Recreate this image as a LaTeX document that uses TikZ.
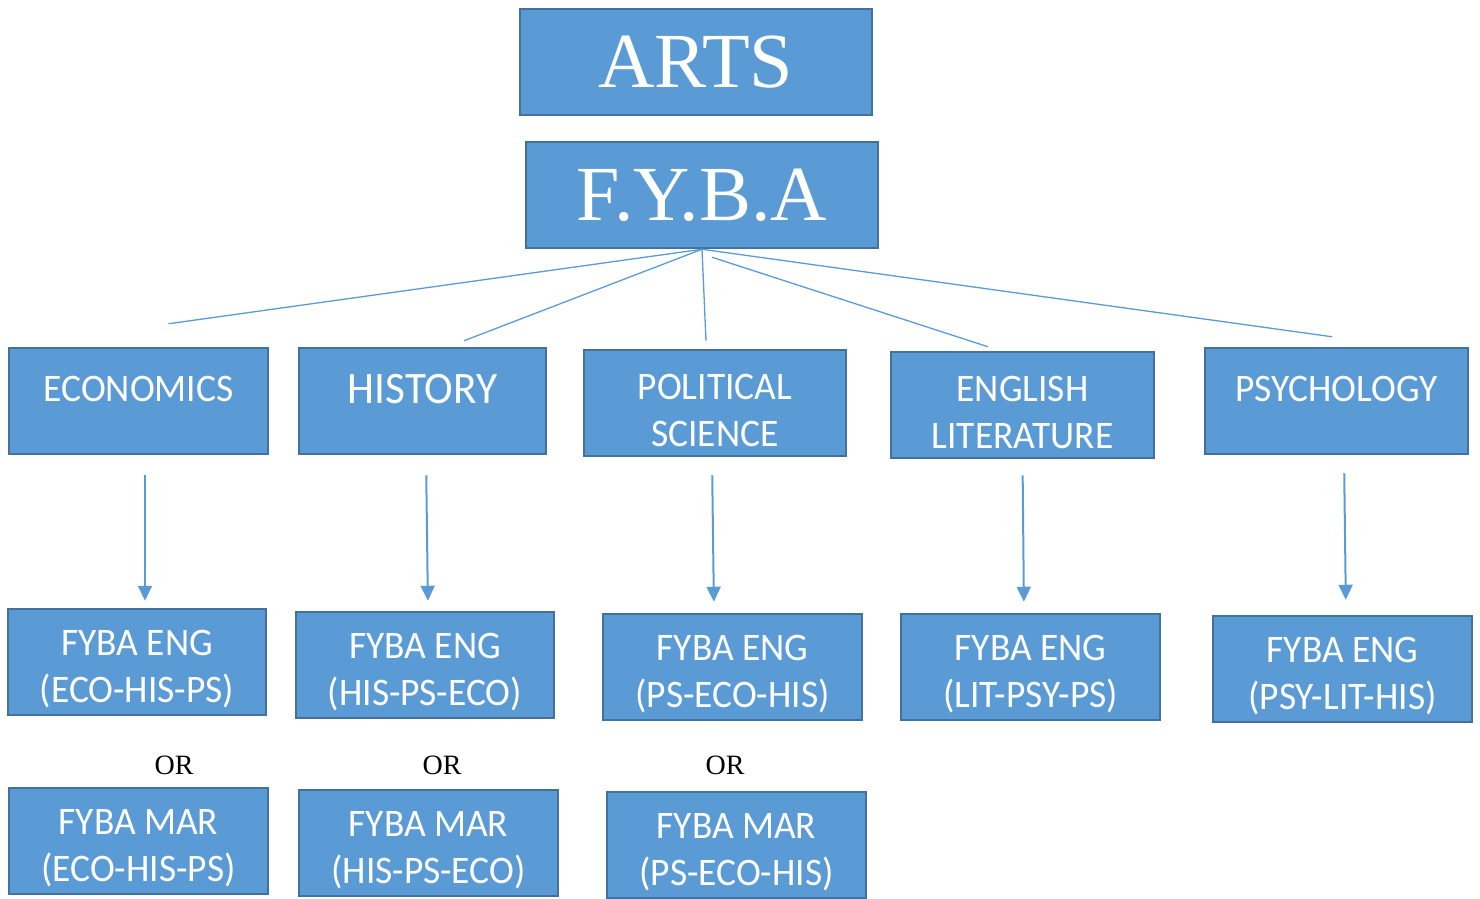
\documentclass[tikz,border=0pt]{standalone}
\usepackage{fontspec}
\setmainfont{Liberation Serif}
\newfontfamily\calibri[FakeStretch=0.96]{Carlito}
\usepackage{tikz}
\usetikzlibrary{arrows.meta}

\definecolor{boxblue}{HTML}{5B9BD5}
\definecolor{boxedge}{HTML}{41719C}

% pushes a two-line box text down a little
\newcommand{\topgap}{\rule{0pt}{40pt}}

\tikzset{
  box/.style={rectangle, draw=boxedge, line width=2.5pt, fill=boxblue, text=white,
    inner sep=0pt, minimum height=106pt, align=center,
    font=\calibri\fontsize{39}{47}\selectfont},
  headbox/.style={box, minimum width=352pt, font=\fontsize{78}{90}\selectfont},
  oneline/.style={text depth=24pt},
  fan/.style={draw=boxblue, line width=1.3pt},
  drop/.style={draw=boxblue, line width=2pt, -{Triangle[length=15pt, width=14pt]}},
  ortext/.style={font=\fontsize{28}{30}\selectfont}
}

\begin{document}
\begin{tikzpicture}[x=1pt, y=-1pt]
        \useasboundingbox (0,0) rectangle (1480,898);

        % top
        \node[headbox] (arts) at (696, 62) {ARTS};
        \node[headbox] (fyba) at (702, 195) {F.Y.B.A};

        % subjects
        \node[box, oneline, minimum width=259pt] (eco) at (138.5, 401) {ECONOMICS};
        \node[box, oneline, minimum width=247pt, font=\calibri\fontsize{45}{50}\selectfont] (his) at (422.5, 401) {HISTORY};
        \node[box, minimum width=262pt] (ps) at (715, 403) {\topgap POLITICAL\\SCIENCE};
        \node[box, minimum width=263pt] (lit) at (1022.5, 405) {\topgap ENGLISH\\LITERATURE};
        \node[box, oneline, minimum width=263pt] (psy) at (1336.5, 401) {PSYCHOLOGY};

        % english medium
        \node[box, minimum width=258pt] (engEco) at (137, 662) {\topgap FYBA ENG\\(ECO-HIS-PS)};
        \node[box, minimum width=258pt] (engHis) at (425, 665) {\topgap FYBA ENG\\(HIS-PS-ECO)};
        \node[box, minimum width=259pt] (engPs) at (732.5, 667) {\topgap FYBA ENG\\(PS-ECO-HIS)};
        \node[box, minimum width=259pt] (engLit) at (1030.5, 667) {\topgap FYBA ENG\\(LIT-PSY-PS)};
        \node[box, minimum width=259pt] (engPsy) at (1342.5, 669) {\topgap FYBA ENG\\(PSY-LIT-HIS)};

        \node[ortext] (orEco) at (174, 765) {OR};
        \node[ortext] (orHis) at (442, 765) {OR};
        \node[ortext] (orPs) at (725, 765) {OR};

        % marathi medium
        \node[box, minimum width=259pt] (marEco) at (138.5, 841) {\topgap FYBA MAR\\(ECO-HIS-PS)};
        \node[box, minimum width=259pt] (marHis) at (428.5, 843) {\topgap FYBA MAR\\(HIS-PS-ECO)};
        \node[box, minimum width=259pt] (marPs) at (736.5, 845) {\topgap FYBA MAR\\(PS-ECO-HIS)};

        \draw[fan] (fyba.south) -- ([xshift=30pt, yshift=23pt]eco.north);
        \draw[fan] (fyba.south) -- ([xshift=41.5pt, yshift=6pt]his.north);
        \draw[fan] (fyba.south) -- ([xshift=-9pt, yshift=8pt]ps.north);
        \draw[fan] ([xshift=10pt, yshift=-8pt]fyba.south) -- ([xshift=-34.5pt, yshift=4pt]lit.north);
        \draw[fan] (fyba.south) -- ([xshift=-4.5pt, yshift=10pt]psy.north);

        \draw[drop, shorten <=20pt, shorten >=7pt] ([xshift=6.5pt]eco.south) -- ([xshift=8pt]engEco.north);
        \draw[drop, shorten <=20pt, shorten >=10pt] ([xshift=3.5pt]his.south) -- ([xshift=3pt]engHis.north);
        \draw[drop, shorten <=18pt, shorten >=11pt] ([xshift=-3pt]ps.south) -- ([xshift=-18.5pt]engPs.north);
        \draw[drop, shorten <=16pt, shorten >=11pt] (lit.south) -- ([xshift=-6.5pt]engLit.north);
        \draw[drop, shorten <=18pt, shorten >=15pt] ([xshift=7.5pt]psy.south) -- ([xshift=3.5pt]engPsy.north);
    \end{tikzpicture}
\end{document}
